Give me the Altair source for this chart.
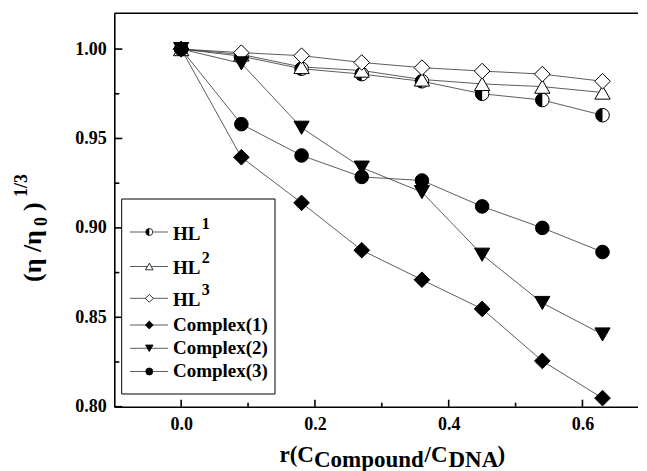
import altair as alt
import pandas as pd

# ---------------- data ----------------
r_vals = [0.0, 0.09, 0.18, 0.27, 0.36, 0.45, 0.54, 0.63]
hl1 = [1.000, 0.996, 0.989, 0.986, 0.982, 0.975, 0.9715, 0.963]
hl2 = [1.000, 0.997, 0.990, 0.988, 0.983, 0.9805, 0.979, 0.9757]
hl3 = [1.000, 0.998, 0.9963, 0.9925, 0.9896, 0.9877, 0.986, 0.982]
c1 = [1.000, 0.9395, 0.914, 0.8875, 0.871, 0.8547, 0.8256, 0.8048]
c2 = [1.000, 0.992, 0.956, 0.9337, 0.920, 0.885, 0.858, 0.8404]
c3 = [1.000, 0.958, 0.9405, 0.9285, 0.9265, 0.912, 0.900, 0.8865]

series_names = ["HL1", "HL2", "HL3", "Complex(1)", "Complex(2)", "Complex(3)"]
legend_main = ["HL", "HL", "HL", "Complex(1)", "Complex(2)", "Complex(3)"]
legend_sup = ["1", "2", "3", "", "", ""]

y_major = [0.80, 0.85, 0.90, 0.95, 1.00]
y_minor = [0.825, 0.875, 0.925, 0.975]
x_major = [0.0, 0.2, 0.4, 0.6]
x_minor = [0.1, 0.3, 0.5]

# ---------------- layout ----------------
W, H = 524, 393.4
FONT = "Liberation Serif"
HALF = "M0,-1A1,1 0 0,0 0,1Z"
LINE_COLOR = "#333333"

series_vals = [hl1, hl2, hl3, c1, c2, c3]
df = pd.DataFrame(
    [
        {"series": s, "r": x, "v": y, "ord": i}
        for s, vals in zip(series_names, series_vals)
        for i, (x, y) in enumerate(zip(r_vals, vals))
    ]
)

xscale = alt.Scale(domain=[-0.1, 0.6835], nice=False, zero=False)
yscale = alt.Scale(domain=[0.80, 1.02], nice=False, zero=False)
axis_common = dict(
    title=None, ticks=False, tickSize=0, grid=False, domainWidth=1.6,
    domainColor="black", labelFont=FONT, labelFontWeight="bold",
    labelFontSize=18, labelColor="black", labelFlush=False, labelOverlap=False,
)
xaxis = alt.Axis(values=x_major, format=".1f", labelPadding=9, **axis_common)
yaxis = alt.Axis(values=y_major, format=".2f", labelPadding=8, **axis_common)


def X(f):
    return alt.X(f, type="quantitative", scale=xscale, axis=xaxis)


def Y(f):
    return alt.Y(f, type="quantitative", scale=yscale, axis=yaxis)


layers = []

# connecting lines
layers.append(
    alt.Chart(df).mark_line(color=LINE_COLOR, strokeWidth=0.8).encode(
        x=X("r"), y=Y("v"), detail="series:N", order="ord:Q"
    )
)

styles = {
    "HL1": [("circle", "white", "black", 185), (HALF, "black", "transparent", 185)],
    "HL2": [("triangle-up", "white", "black", 235)],
    "HL3": [("diamond", "white", "black", 245)],
    "Complex(1)": [("diamond", "black", "black", 245)],
    "Complex(2)": [("triangle-down", "black", "black", 230)],
    "Complex(3)": [("circle", "black", "black", 185)],
}
for s in series_names:
    for shape, fill, stroke, size in styles[s]:
        layers.append(
            alt.Chart(df)
            .transform_filter(alt.datum.series == s)
            .mark_point(shape=shape, filled=True, fill=fill, stroke=stroke,
                        strokeWidth=1, size=size, opacity=1)
            .encode(x=X("r"), y=Y("v"))
        )

# inward ticks
tick_specs = [
    ("y", y_major, 8), ("y", y_minor, 5), ("x", x_major, 7), ("x", x_minor, 4)
]
for ax, vals, ln in tick_specs:
    tdf = pd.DataFrame({"t": vals})
    if ax == "y":
        enc = dict(y=Y("t"), x=alt.value(0), x2=alt.value(ln))
    else:
        enc = dict(x=X("t"), y=alt.value(H), y2=alt.value(H - ln))
    layers.append(alt.Chart(tdf).mark_rule(color="black", strokeWidth=1.6).encode(**enc))

one = alt.Data(values=[{"k": 1}])

# top frame line
layers.append(
    alt.Chart(one).mark_rule(color="black", strokeWidth=1.6).encode(
        x=alt.value(0), x2=alt.value(W + 20), y=alt.value(0)
    )
)

# legend box
layers.append(
    alt.Chart(one).mark_rect(fill="white", stroke="black", strokeWidth=1).encode(
        x=alt.value(7.4), x2=alt.value(160.7), y=alt.value(185.7), y2=alt.value(380.7)
    )
)
row_y = [218.7, 253.2, 285.0, 311.7, 335.0, 358.2]
leg_size = {"circle": 50, "triangle-up": 58, "triangle-down": 58, "diamond": 62}
for s, main, sup, yy in zip(series_names, legend_main, legend_sup, row_y):
    layers.append(
        alt.Chart(one).mark_rule(color=LINE_COLOR, strokeWidth=0.8).encode(
            x=alt.value(15.7), x2=alt.value(53.7), y=alt.value(yy)
        )
    )
    for shape, fill, stroke, size in styles[s]:
        sz = leg_size.get(shape, 50)
        layers.append(
            alt.Chart(one).mark_point(shape=shape, filled=True, fill=fill, stroke=stroke,
                                      strokeWidth=0.8, size=sz, opacity=1).encode(
                x=alt.value(35), y=alt.value(yy)
            )
        )
    ty = yy + (2 if sup else 0)
    layers.append(
        alt.Chart(alt.Data(values=[{"t": main}])).mark_text(
            align="left", baseline="middle", font=FONT, fontWeight="bold",
            fontSize=19, color="black"
        ).encode(text="t:N", x=alt.value(58.7), y=alt.value(ty))
    )
    if sup:
        layers.append(
            alt.Chart(alt.Data(values=[{"t": sup}])).mark_text(
                align="left", baseline="middle", font=FONT, fontWeight="bold",
                fontSize=16, color="black"
            ).encode(text="t:N", x=alt.value(87.5), y=alt.value(ty - 10))
        )

# x axis title pieces: r(C_Compound/C_DNA)
x_title = [("r(C", 165.2, 448.7, 23), ("Compound", 199.7, 454.2, 23),
           ("/C", 310.2, 448.7, 23), ("DNA", 334.2, 454.2, 23), (")", 383.2, 448.7, 23)]
for txt, px, py, fs in x_title:
    layers.append(
        alt.Chart(alt.Data(values=[{"t": txt}])).mark_text(
            align="left", baseline="alphabetic", font=FONT, fontWeight="bold",
            fontSize=fs, color="black"
        ).encode(text="t:N", x=alt.value(px), y=alt.value(py))
    )

# y axis title pieces: (η /η_0)^(1/3)
y_title = [("(\u03b7 /\u03b7", -81.3, 268.7, 26), ("0", -72.3, 212.7, 18),
           (")", -81.3, 197.7, 26), ("1/3", -91.8, 183.7, 18)]
for txt, px, py, fs in y_title:
    layers.append(
        alt.Chart(alt.Data(values=[{"t": txt}])).mark_text(
            align="left", baseline="middle", font=FONT, fontWeight="bold",
            fontSize=fs, color="black", angle=270
        ).encode(text="t:N", x=alt.value(px), y=alt.value(py))
    )

chart = (
    alt.layer(*layers)
    .properties(
        width=W, height=H,
        padding={"left": 106.3, "top": 5.3, "right": 0, "bottom": 64.3},
        autosize=alt.AutoSizeParams(type="none"),
        background="white",
    )
    .configure_view(stroke=None)
)

chart.save("out.html", embed_options={"renderer": "svg", "actions": False})
